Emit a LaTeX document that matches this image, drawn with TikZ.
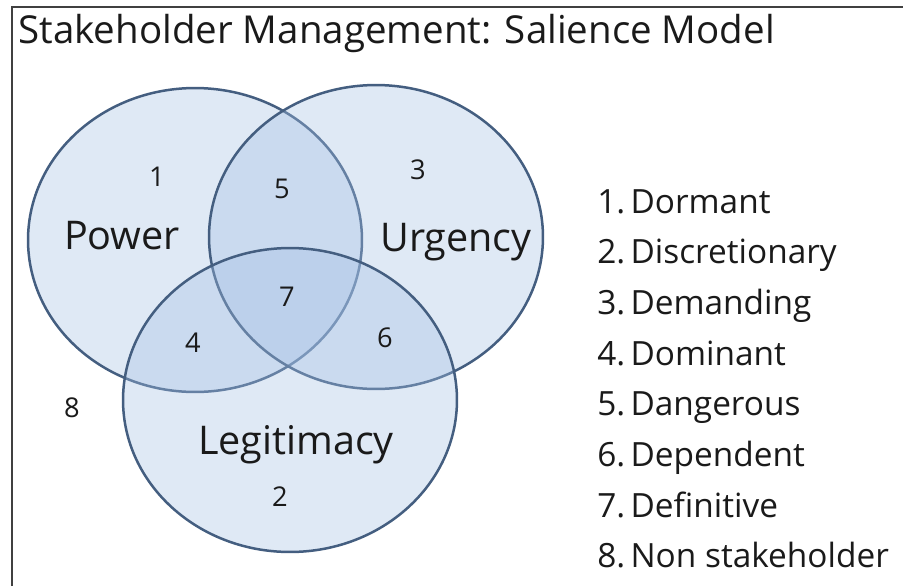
\documentclass[tikz,border=0pt]{standalone}
\usepackage{fontspec}
\setmainfont{Open Sans}
\usepackage{tikz}
\usetikzlibrary{shapes.geometric}
\usetikzlibrary{positioning}

\definecolor{vennfill}{HTML}{A4C0E5}
\definecolor{vennline}{HTML}{445E80}
\definecolor{ink}{HTML}{1A1A1A}

\begin{document}
\begin{tikzpicture}[x=0.02cm,y=-0.02cm]
\tikzstyle{setring}=[ellipse,draw=vennline,line width=0.05cm,fill=vennfill,fill opacity=0.35,draw opacity=1,text opacity=1,minimum width=6.68cm,minimum height=6.08cm,inner sep=0pt]
\tikzstyle{setlabel}=[text=ink,font=\fontsize{22.5}{24}\selectfont,anchor=base]
\tikzstyle{regnum}=[text=ink,font=\fontsize{15.5}{17}\selectfont]
\tikzstyle{legend}=[text=ink,font=\fontsize{19}{21}\selectfont,anchor=base west,inner sep=0pt]
\useasboundingbox (0,0) rectangle (903,586);
\fill[white] (0,0) rectangle (903,586);
% frame
\draw[black!75,line width=0.04cm] (12,586) -- (12,7) -- (903,7);
\node[text=ink,font=\fontsize{21.9}{24}\selectfont,anchor=base west,inner sep=0pt] (title) at (18,43) {Stakeholder Management: Salience Model};
% the three sets
\node[setring] (power) at (195,240) {};
\node[setring] (urgency) at (376,237) {};
\node[setring] (legit) at (290,400) {};
\node[setlabel] (powerlbl) at (122,249) {Power};
\node[setlabel] (urgencylbl) at (456,251) {Urgency};
\node[setlabel] (legitlbl) at (296,454) {Legitimacy};
% regions
\node[regnum] (r1) at (157,177) {1};
\node[regnum] (r2) at (280,497) {2};
\node[regnum] (r3) at (418,170) {3};
\node[regnum] (r4) at (193,343) {4};
\node[regnum] (r5) at (282,189) {5};
\node[regnum] (r6) at (385,338) {6};
\node[regnum] (r7) at (287,297) {7};
\node[regnum] (r8) at (72,408) {8};
% legend
\foreach \n/\t [count=\i from 0] in {1/Dormant,2/Discretionary,3/Demanding,4/Dominant,5/Dangerous,6/Dependent,7/Definitive,8/Non stakeholder}
  \node[legend] (leg\n) at (597,213+50.7*\i) {\n.\hspace{3pt}\t};
\end{tikzpicture}
\end{document}
